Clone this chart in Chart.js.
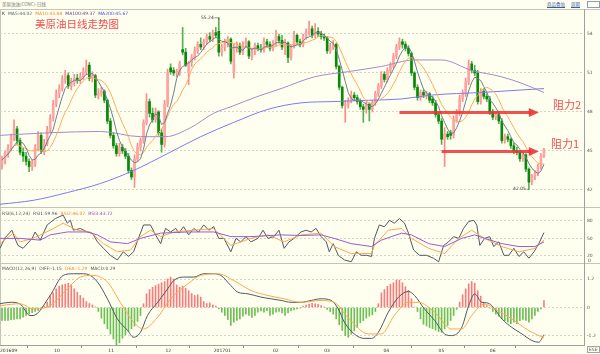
<!DOCTYPE html>
<html>
<head>
<meta charset="utf-8">
<title>美原油日线走势图</title>
<script src="https://cdn.jsdelivr.net/npm/chart.js@4.4.0/dist/chart.umd.min.js"></script>
<style>
  html, body { margin: 0; padding: 0; }
  body { width: 600px; height: 354px; background: #fffff0; position: relative; overflow: hidden;
         font-family: "DejaVu Sans", "Noto Sans CJK SC", sans-serif; }
  canvas { position: absolute; left: 0; }
  .txt { position: absolute; white-space: nowrap; font-size: 4.5px; line-height: 5px; color: #555; }
  .txt span { margin-right: 3px; }
  .hline { position: absolute; left: 0; width: 600px; height: 1px; background: #c4c4bc; }
  .cn { font-family: "Noto Sans CJK SC", sans-serif; }
  .big { position: absolute; white-space: nowrap; color: #f24c4c; font-family: "Noto Sans CJK SC", sans-serif; }
</style>
</head>
<body>
<div class="txt cn" style="left:2px;top:2px;color:#777">美原油油(CONC)-日线</div>
<div class="txt cn" style="left:547px;top:2px;color:#3a5ba0;text-decoration:underline">商品叠加</div>
<div class="txt cn" style="left:571px;top:2px;color:#3a5ba0;text-decoration:underline">周期</div>
<div style="position:absolute;left:587px;top:1px;width:11px;height:5px;border:1px solid #8a9ac0"></div>
<div class="hline" style="top:9px"></div>
<div class="hline" style="top:207px"></div>
<div class="hline" style="top:263px"></div>
<div style="position:absolute;left:0;top:9px;width:1px;height:336px;background:#c4c4bc"></div>

<canvas id="kline" width="600" height="198" style="top:9px"></canvas>
<canvas id="rsi" width="600" height="56" style="top:207px"></canvas>
<canvas id="macd" width="600" height="91" style="top:263px"></canvas>

<div class="txt" style="left:2px;top:11px">
  <span style="color:#333">K</span><span style="color:#556575">MA5:44.02</span><span style="color:#f08a2c">MA10:43.88</span><span style="color:#5a3f86">MA100:49.37</span><span style="color:#4b4be0">MA200:45.67</span>
</div>
<div class="big" style="left:35px;top:18px;font-size:10.5px;line-height:12px">美原油日线走势图</div>
<div class="big" style="left:553px;top:98px;font-size:11px;line-height:13px">阻力2</div>
<div class="big" style="left:551px;top:137px;font-size:11px;line-height:13px">阻力1</div>

<div class="txt" style="left:2px;top:211px">
  <span style="color:#555">RSI(6,12,24)</span><span style="color:#4b5a64">RSI1:59.96</span><span style="color:#f08a2c">RSI2:46.07</span><span style="color:#8a4fc0">RSI3:43.72</span>
</div>
<div class="txt" style="left:588px;top:258px">0</div>

<div class="txt" style="left:2px;top:266px">
  <span style="color:#555">MACD(12,26,9)</span><span style="color:#4b5a64">DIFF:-1.15</span><span style="color:#f08a2c">DEA:-1.29</span><span style="color:#555">MACD:0.29</span>
</div>
<div class="txt" style="left:587px;top:346px;border:1px solid #9aa;padding:0 1px;line-height:5px">ESE</div>

<script>
// daily candles, Sep 2016 .. Jun 2017
const opens = [
  44.0,44.3,44.8,45.2,46.0,46.7,45.8,44.9,44.6,44.2,
  43.8,44.0,45.2,46.2,45.0,45.6,46.6,47.5,48.6,49.4,
  49.8,50.5,50.8,50.0,50.3,50.6,50.5,50.7,51.1,51.6,
  50.6,50.8,49.3,49.4,49.6,48.9,47.3,46.2,45.4,44.8,
  45.3,45.0,44.6,43.5,43.0,44.4,45.3,45.8,47.2,48.8,
  47.9,47.4,48.0,46.4,45.5,48.6,51.4,51.2,51.0,51.0,
  52.8,52.6,51.0,51.8,52.2,52.7,53.2,53.0,53.4,53.8,
  53.6,54.1,54.2,52.6,53.0,53.4,53.6,51.0,52.9,53.1,
  52.6,53.2,53.4,52.3,52.6,53.1,52.9,52.8,53.4,53.2,
  52.9,53.3,53.8,53.5,53.0,53.3,52.2,53.0,53.9,53.4,
  53.2,53.8,54.1,54.4,53.9,54.2,54.0,53.8,53.7,52.7,
  53.0,53.2,51.5,49.9,48.5,48.6,48.9,49.3,49.1,48.8,
  48.4,48.2,48.6,48.2,48.7,49.4,50.0,50.9,50.5,51.2,
  51.6,52.3,53.0,53.4,53.2,52.9,52.5,51.0,49.9,49.1,
  49.5,49.3,49.4,49.0,48.7,47.8,47.3,45.9,46.3,46.4,
  46.2,47.4,47.9,49.0,49.4,50.3,51.7,51.2,51.0,48.8,
  49.6,49.2,49.0,48.0,47.6,47.8,47.3,45.8,46.1,45.9,
  45.4,45.0,44.9,44.4,44.7,43.6,42.6,43.0,43.3,43.8,
  44.6
];
const highs = [
  44.6,45.0,45.5,46.3,47.4,46.9,46.0,45.2,44.9,44.4,
  44.3,45.5,46.5,46.4,45.9,46.9,47.8,48.9,49.7,50.1,
  50.8,51.2,51.0,50.6,50.9,50.9,51.0,51.4,52.0,51.8,
  51.1,50.9,49.8,49.9,49.7,49.0,47.5,46.4,45.6,45.6,
  45.5,45.2,44.8,43.7,44.7,45.6,46.0,47.4,49.4,49.0,
  48.3,48.3,48.1,46.7,48.9,51.3,51.7,51.4,51.3,51.9,
  54.5,52.9,51.9,52.4,53.0,53.4,53.7,53.6,54.0,54.1,
  54.3,54.5,55.24,53.2,53.6,53.8,53.7,53.2,53.4,53.3,
  53.4,53.7,53.5,52.9,53.3,53.3,53.2,53.7,53.6,53.4,
  53.5,54.3,54.0,53.9,53.6,53.4,53.2,54.2,54.0,53.6,
  54.0,54.4,55.0,54.6,54.8,54.5,54.2,54.0,53.8,53.3,
  53.5,53.3,51.6,50.0,48.9,49.1,49.6,49.5,49.3,49.0,
  48.6,48.8,48.7,48.9,49.6,50.2,51.1,51.1,51.4,51.8,
  52.5,53.2,53.7,53.6,53.4,53.1,52.6,51.1,50.1,49.7,
  49.7,49.6,49.5,49.2,48.9,48.0,47.5,46.8,46.5,46.6,
  47.7,48.2,49.3,49.7,50.6,52.0,51.9,51.6,51.2,49.8,
  49.8,49.4,49.2,48.2,48.0,48.0,47.5,46.3,46.3,46.0,
  45.6,45.3,45.0,44.9,44.8,43.7,43.2,43.5,44.0,44.8,
  45.2
];
const lows = [
  43.6,44.0,44.5,45.0,45.8,45.5,44.7,44.2,43.9,43.4,
  43.5,43.8,45.0,44.8,44.7,45.4,46.4,47.3,48.4,49.1,
  49.6,50.2,49.8,49.7,50.0,50.2,50.2,50.5,50.9,50.4,
  50.3,49.1,49.0,49.2,48.7,47.1,46.0,45.2,44.6,44.6,
  44.8,44.4,43.3,42.8,42.2,44.2,45.0,45.6,47.0,47.6,
  47.2,47.2,46.2,44.9,45.3,48.4,50.9,50.8,50.7,50.8,
  52.4,51.5,50.1,51.5,52.0,52.5,52.8,52.8,53.2,53.4,
  53.4,53.7,52.3,52.3,52.7,53.0,51.7,50.6,52.6,52.4,
  52.4,53.0,52.1,52.0,52.4,52.7,52.6,52.6,53.0,52.7,
  52.7,53.1,53.3,52.8,52.4,51.8,52.0,52.9,53.2,53.0,
  53.0,53.6,53.9,53.7,53.7,53.8,53.6,53.5,52.5,52.5,
  52.8,51.3,49.7,48.3,47.2,48.3,48.7,48.9,48.6,48.2,
  47.2,47.9,47.3,48.0,48.5,49.2,49.8,50.3,50.3,51.0,
  51.4,52.1,52.8,52.9,52.7,52.3,50.8,49.7,48.9,48.9,
  49.1,49.0,48.7,48.5,47.6,47.1,45.5,43.8,45.9,45.9,
  46.0,47.2,47.7,48.8,49.2,50.1,51.0,50.8,48.6,48.6,
  49.0,48.8,47.8,47.4,47.4,47.1,45.6,45.6,45.7,45.2,
  44.8,44.7,44.2,44.2,43.4,42.05,42.4,42.8,43.1,43.6,
  44.5
];
const closes = [
  44.3,44.8,45.2,46.0,46.7,45.8,44.9,44.6,44.2,43.8,
  44.0,45.2,46.2,45.0,45.6,46.6,47.5,48.6,49.4,49.8,
  50.5,50.8,50.0,50.3,50.6,50.5,50.7,51.1,51.6,50.6,
  50.8,49.3,49.4,49.6,48.9,47.3,46.2,45.4,44.8,45.3,
  45.0,44.6,43.5,43.0,44.4,45.3,45.8,47.2,48.8,47.9,
  47.4,48.0,46.4,45.5,48.6,51.0,51.1,51.0,51.1,51.7,
  52.6,51.6,51.8,52.2,52.7,53.2,53.0,53.4,53.8,53.6,
  54.1,53.9,52.6,53.0,53.4,53.6,51.9,52.9,53.1,52.6,
  53.2,53.4,52.3,52.6,53.1,52.9,52.8,53.4,53.2,52.9,
  53.3,53.8,53.5,53.0,53.3,52.2,53.0,53.9,53.4,53.2,
  53.8,54.1,54.4,53.9,54.2,54.0,53.8,53.7,52.7,53.0,
  53.2,51.5,49.9,48.5,48.6,48.9,49.3,49.1,48.8,48.4,
  48.2,48.6,48.2,48.7,49.4,50.0,50.9,50.5,51.2,51.6,
  52.3,53.0,53.4,53.2,52.9,52.5,51.0,49.9,49.1,49.5,
  49.3,49.4,48.9,48.7,47.8,47.3,45.9,46.3,46.1,46.2,
  47.4,47.9,49.0,49.4,50.3,51.5,51.2,51.0,48.8,49.6,
  49.2,49.0,48.0,47.6,47.8,47.3,45.8,46.1,45.9,45.4,
  45.0,44.9,44.4,44.7,43.6,42.6,43.0,43.3,43.8,44.6,
  45.1
];

// long moving averages, [candle index, price]
const ma100 = [[-0.7,46.2],[16,46.4],[32.7,46.5],[46,46.1],[54.3,46.1],[62.7,46.8],[70.3,47.9],[76,48.4],
  [85,49.2],[92.7,49.8],[103.7,50.7],[115,51.1],[126,51.5],[137,52.0],[146,52.0],[156,51.2],[166,50.7],
  [172.7,50.2],[180,49.5]];
const ma200 = [[-0.7,40.9],[10.3,41.2],[21.7,41.8],[32.7,42.5],[43.7,43.5],[55,44.8],[66,46.1],[77,47.2],
  [88.3,48.2],[99.3,48.7],[110.3,48.8],[121.7,48.9],[132.7,49.0],[142.7,49.3],[159.3,49.5],[180,49.8]];

// RSI(6,12,24), [candle index, value]
const rsi1 = [[-0.7,33],[1,51],[3.3,64],[4.3,50],[5.3,38],[7,33],[10,50],[11,61],[12.7,47],[15,73],[17.7,84],
  [20.3,90],[21.7,76],[22.7,81],[23.7,64],[26,67],[28.3,61],[30,59],[31.7,44],[33.7,33],[36,21],[38.3,13],
  [40.3,27],[42,19],[43.7,27],[45.3,50],[47,73],[49.3,73],[51,56],[52.7,41],[54.3,67],[56,61],[57.7,67],
  [58.7,59],[60.3,70],[62,56],[63.7,67],[65.3,61],[67,73],[68.7,64],[70.3,70],[72,50],[73.7,50],[76,27],
  [77.7,50],[79.3,44],[81,53],[82.7,44],[85,50],[86.7,64],[88.3,50],[90.3,53],[92,64],[93.7,33],[95.3,44],
  [97,50],[99.3,61],[101,64],[102.7,61],[104.3,67],[106,53],[107.7,44],[108.7,27],[110,41],[111.7,21],
  [113.7,13],[116,10],[117.7,27],[119.3,21],[121,21],[122.7,19],[123.7,50],[125.3,73],[127,70],[128.7,81],
  [130.3,76],[132,84],[133.7,76],[135,59],[136.7,30],[138.7,21],[141,21],[143.3,16],[145,10],[146.7,38],
  [148.3,44],[150,53],[151.7,50],[153.3,67],[155,79],[156.7,81],[157.7,73],[158.7,38],[160.3,50],[162,53],
  [163.3,36],[165,44],[166.7,21],[168.3,21],[170,33],[171.7,19],[173.3,27],[175,16],[176.7,27],[178.3,41],[180,60]];
const rsi2 = [[-0.7,41],[3.7,59],[6,44],[10.3,50],[16,64],[20.3,76],[25,64],[29.3,61],[33.7,41],[38.3,27],
  [42.7,30],[46,53],[49.3,64],[52.7,53],[57,61],[63.7,64],[70.3,67],[76,38],[82.7,50],[88.3,56],[93.7,44],
  [99.3,56],[106,59],[110.3,36],[116,24],[122.7,24],[123.7,38],[128.3,64],[132.7,67],[136,50],[141.7,33],
  [147,24],[151.7,50],[156,64],[160.3,50],[166,36],[171.7,27],[177,33],[180,47]];
const rsi3 = [[-0.7,50],[6,50],[12.7,47],[16,56],[21.7,61],[28.3,61],[31.7,56],[36,44],[41.7,41],[46,50],
  [52.7,59],[61.7,61],[70.3,61],[76,53],[82.7,53],[92.7,56],[99.3,55],[106,56],[110.3,50],[116,41],[122.7,36],
  [126,47],[132.7,59],[136,56],[141.7,41],[147,36],[152.7,50],[157,56],[160.3,50],[166,41],[171.7,36],[177,36],[180,44]];

// MACD(12,26,9)
const diff = [[-0.7,0.16],[2.7,0.22],[6,0.15],[9.3,-0.34],[10.3,-0.34],[16,0.51],[20.3,1.36],[23.7,1.43],
  [27,1.43],[29.3,1.36],[31.7,1.08],[35,0.37],[38.3,-0.48],[41.7,-0.97],[43.7,-1.26],[46,-1.05],[48.3,-0.34],
  [51.7,0.22],[55,0.79],[57,1.14],[60.3,1.29],[63.7,1.29],[67,1.43],[70.3,1.43],[72.7,1.36],[76,0.93],
  [78.3,0.65],[81.7,0.58],[86,0.44],[89.3,0.37],[92.7,0.30],[96,0.22],[99.3,0.22],[102.7,0.30],[106,0.37],
  [109.3,0.30],[111.7,-0.06],[113.7,-0.62],[117,-1.12],[120.3,-1.31],[122.7,-1.31],[125,-1.05],[128.3,-0.20],
  [131.7,0.44],[135,0.68],[137,0.51],[140.3,-0.06],[143.7,-0.55],[147,-1.12],[149.3,-1.19],[152.7,-0.84],
  [155,0.08],[157,0.58],[159.3,0.22],[161,0.20],[162.7,0.08],[166,-0.48],[169.3,-0.84],[172.7,-1.12],
  [176,-1.40],[178.3,-1.47],[180,-1.15]];
const dea = [[-0.7,0.08],[6,0.16],[10.3,-0.06],[16,0.08],[21.7,0.79],[26,1.29],[30.3,1.36],[35,1.08],
  [39.3,0.22],[43.7,-0.62],[47,-0.91],[51.7,-0.41],[56,0.37],[61.7,1.00],[66,1.36],[71.7,1.43],[77,1.14],
  [82.7,0.72],[88.3,0.51],[93.7,0.37],[99.3,0.22],[106,0.30],[110.3,0.22],[115.3,-0.48],[121.7,-1.12],
  [126,-1.12],[130.3,-0.34],[135,0.22],[138.3,0.22],[143.7,-0.20],[149.3,-0.91],[152.7,-0.91],[156,-0.34],
  [160.3,0.15],[163.7,-0.06],[169.3,-0.48],[175,-0.98],[180,-1.29]];
const macdHist = [
  -0.55,-0.55,-0.55,-0.52,-0.5,-0.48,-0.48,-0.41,-0.34,-0.27,
  -0.22,-0.17,-0.12,-0.06,0.06,0.23,0.51,0.62,0.79,0.9,
  0.96,0.99,1.03,0.96,0.79,0.65,0.51,0.4,0.25,0.17,
  0.11,0.03,-0.17,-0.45,-0.69,-0.9,-1.12,-1.33,-1.58,-1.5,
  -1.3,-1.16,-1.02,-0.9,-0.79,-0.59,-0.34,0.16,0.58,0.76,
  0.86,0.93,0.99,1.05,1.1,1.21,1.29,1.21,0.96,0.86,
  0.9,0.82,0.71,0.59,0.51,0.54,0.44,0.25,0.17,0.2,
  0.11,0.06,-0.06,-0.2,-0.34,-0.51,-0.76,-0.62,-0.55,-0.48,
  -0.37,-0.28,-0.34,-0.42,-0.34,-0.2,-0.14,-0.2,-0.13,-0.34,
  -0.28,-0.2,-0.17,-0.23,-0.34,-0.23,-0.14,-0.1,-0.06,-0.03,
  0.06,0.1,0.14,0.18,0.16,0.13,0.08,0.03,-0.08,-0.17,
  -0.28,-0.48,-0.73,-0.97,-1.19,-1.26,-1.13,-0.99,-0.85,-0.65,
  -0.56,-0.45,-0.37,-0.31,-0.17,0.16,0.62,0.76,0.9,0.99,
  1.05,1.16,1.16,1.05,0.88,0.73,0.37,0.02,-0.17,-0.48,
  -0.71,-0.78,-0.85,-0.9,-0.96,-1.02,-1.05,-0.9,-0.76,-0.55,
  -0.34,-0.08,0.23,0.54,0.79,1.0,1.1,1.03,0.71,0.48,
  0.23,0.08,-0.03,-0.17,-0.28,-0.37,-0.48,-0.56,-0.62,-0.69,
  -0.62,-0.68,-0.56,-0.51,-0.55,-0.62,-0.48,-0.34,-0.17,-0.06,
  0.29
];

// bottom axis: first candle of each month
const monthStart = [-0.67, 17.3, 35.3, 54.3, 70.3, 90, 107, 126.7, 145, 162];
const monthLabels = ['201609', '10', '11', '12', '201701', '02', '03', '04', '05', '06'];

// resistance arrows (price level, first candle index), all ending at the same index
const resistLevels = [48.0, 45.0];
const resistFrom = [132, 146];
const resistTo = 178.3;

const X_MIN = -0.67, X_MAX = 193.3;
const TICK_FONT = { size: 4.5, family: 'DejaVu Sans' };

const idx = closes.map((_, i) => i);
const pts = arr => arr.map(([x, y]) => ({ x, y }));

function movingAvg(src, n) {
  return src.map((_, i) => {
    const win = src.slice(Math.max(0, i - n + 1), i + 1);
    return { x: i, y: win.reduce((a, b) => a + b, 0) / win.length };
  });
}

function hiddenX() {
  return { type: 'linear', min: X_MIN, max: X_MAX, display: false, offset: false };
}

function rightAxis(min, max, ticks) {
  return {
    position: 'right', min, max,
    afterBuildTicks(s) { s.ticks = ticks.map(v => ({ value: v })); },
    afterFit(s) { s.width = 16; s.paddingTop = 0; s.paddingBottom = 0; },
    ticks: { font: TICK_FONT, color: '#555', padding: 3 },
    grid: { color: '#d4d4ca', drawTicks: false },
    border: { display: true, color: '#a0a0a0', dash: [2, 2] }
  };
}

function lineSet(data, color, smooth) {
  return {
    type: 'line', data, borderColor: color, borderWidth: 1, pointRadius: 0,
    cubicInterpolationMode: smooth ? 'monotone' : 'default', tension: 0, order: 0
  };
}

const baseOpts = {
  responsive: false, animation: false, events: [],
  layout: { padding: 0 },
  plugins: { legend: { display: false }, tooltip: { enabled: false } }
};

const isUp = i => closes[i] >= opens[i];

const annotate = {
  id: 'annotate',
  afterDatasetsDraw(chart) {
    const { ctx, scales: { x, y } } = chart;
    ctx.save();
    // resistance arrows
    resistLevels.forEach((lv, k) => {
      const x0 = x.getPixelForValue(resistFrom[k]);
      const x1 = x.getPixelForValue(resistTo);
      const yy = Math.round(y.getPixelForValue(lv)) + 0.5;
      ctx.strokeStyle = 'rgba(238,50,50,0.85)';
      ctx.fillStyle = 'rgba(238,50,50,0.9)';
      ctx.lineWidth = 3;
      ctx.beginPath(); ctx.moveTo(x0, yy); ctx.lineTo(x1 - 8, yy); ctx.stroke();
      ctx.beginPath(); ctx.moveTo(x1, yy); ctx.lineTo(x1 - 10, yy - 4.5); ctx.lineTo(x1 - 10, yy + 4.5);
      ctx.closePath(); ctx.fill();
    });
    // highest high / lowest low
    const hi = highs.indexOf(Math.max(...highs));
    const lo = lows.indexOf(Math.min(...lows));
    ctx.font = '4.5px "DejaVu Sans"';
    ctx.fillStyle = '#333';
    ctx.strokeStyle = '#555';
    ctx.lineWidth = 0.6;
    ctx.textAlign = 'right';
    ctx.textBaseline = 'middle';
    const hx = x.getPixelForValue(hi), hy = y.getPixelForValue(highs[hi]);
    ctx.fillText(highs[hi].toFixed(2), hx - 5, hy);
    ctx.beginPath(); ctx.moveTo(hx - 4.5, hy); ctx.lineTo(hx, hy); ctx.lineTo(hx, hy + 2); ctx.stroke();
    const lx = x.getPixelForValue(lo), ly = y.getPixelForValue(lows[lo]);
    ctx.fillText(lows[lo].toFixed(2), lx - 3, ly);
    ctx.beginPath(); ctx.moveTo(lx - 2.5, ly); ctx.lineTo(lx, ly); ctx.stroke();
    ctx.restore();
  }
};

new Chart(document.getElementById('kline'), {
  type: 'bar',
  data: {
    datasets: [
      lineSet(movingAvg(closes, 5), '#6e7f8e', false),
      lineSet(movingAvg(closes, 10), '#ffab5e', false),
      lineSet(pts(ma100), '#a68ac6', true),
      lineSet(pts(ma200), '#7a7af2', true),
      {
        data: idx.map(i => ({ x: i, y: [lows[i], highs[i]] })),
        backgroundColor: idx.map(i => isUp(i) ? '#ff8a8a' : '#55b055'),
        barThickness: 1, grouped: false, order: 2
      },
      {
        data: idx.map(i => ({ x: i, y: [opens[i], closes[i]] })),
        backgroundColor: idx.map(i => isUp(i) ? '#ffa3a3' : '#088a08'),
        barThickness: 2, minBarLength: 1, grouped: false, order: 1
      }
    ]
  },
  options: {
    ...baseOpts,
    scales: { x: hiddenX(), y: rightAxis(40.69, 55.92, [42, 45, 48, 51, 54]) }
  },
  plugins: [annotate]
});

new Chart(document.getElementById('rsi'), {
  type: 'line',
  data: {
    datasets: [
      lineSet(pts(rsi3), '#9a5bcc', false),
      lineSet(pts(rsi2), '#ffa64d', false),
      lineSet(pts(rsi1), '#4b5a64', false)
    ]
  },
  options: {
    ...baseOpts,
    scales: { x: hiddenX(), y: rightAxis(7.8, 103.8, [20, 50, 80]) }
  }
});

new Chart(document.getElementById('macd'), {
  type: 'bar',
  data: {
    datasets: [
      lineSet(pts(dea), '#ffa64d', true),
      lineSet(pts(diff), '#4b5a64', true),
      {
        data: idx.map(i => ({ x: i, y: macdHist[i] })),
        backgroundColor: macdHist.map(v => v >= 0 ? '#f77c7c' : '#6cbf52'),
        barThickness: 1, grouped: false, order: 1
      }
    ]
  },
  options: {
    ...baseOpts,
    scales: {
      x: {
        type: 'linear', min: X_MIN, max: X_MAX, offset: false, position: 'bottom',
        afterBuildTicks(s) { s.ticks = monthStart.map(v => ({ value: v })); },
        afterFit(s) { s.height = 9; s.paddingLeft = 0; s.paddingRight = 0; },
        ticks: {
          font: TICK_FONT, color: '#333', align: 'start', padding: 0, maxRotation: 0, autoSkip: false,
          callback: (v, i) => monthLabels[i]
        },
        grid: { drawOnChartArea: false, drawTicks: true, tickLength: 3, color: '#8a8a8a' },
        border: { display: true, color: '#a0a0a0' }
      },
      y: rightAxis(-1.589, 1.886, [-1.2, 0, 1.2])
    }
  }
});
</script>
</body>
</html>
